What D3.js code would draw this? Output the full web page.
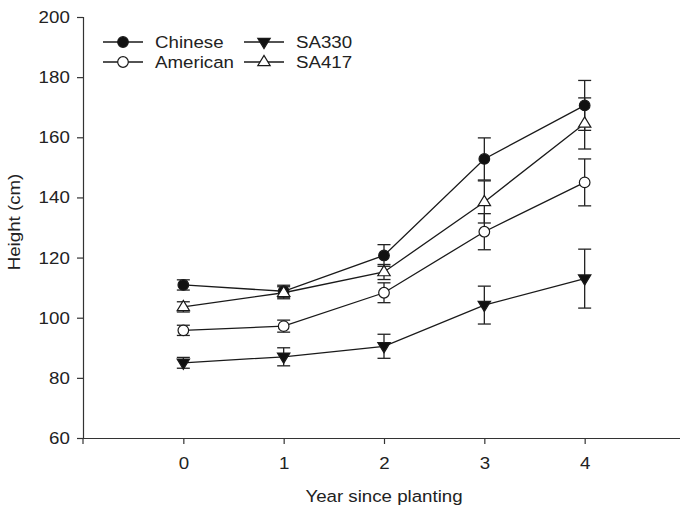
<!DOCTYPE html>
<html><head><meta charset="utf-8">
<script src="https://cdn.jsdelivr.net/npm/d3@7"></script>
<style>body{margin:0;background:#fff}svg{display:block;font-family:"Liberation Sans",Arial,sans-serif}</style>
</head><body><svg id="c" width="680" height="511"></svg>
<script>
const years = [0, 1, 2, 3, 4];
const seriesNames = ["Chinese", "American", "SA330", "SA417"];
const chinese     = [110.9, 108.8, 120.7, 152.8, 170.6];
const chineseErr  = [1.7, 2.0, 3.6, 7.0, 8.3];
const american    = [95.8, 97.2, 108.3, 128.6, 145.0];
const americanErr = [1.7, 2.0, 3.3, 6.0, 7.8];
const sa330       = [85.0, 87.0, 90.5, 104.2, 113.0];
const sa330Err    = [1.8, 3.0, 4.0, 6.3, 9.8];
const sa417       = [103.6, 108.3, 115.2, 138.5, 164.6];
const sa417Err    = [1.7, 2.0, 2.5, 7.0, 8.5];
const yTicks = [60, 80, 100, 120, 140, 160, 180, 200];

const series = [
  {name: seriesNames[0], v: chinese, e: chineseErr, shape: "circle", fill: "#111"},
  {name: seriesNames[1], v: american, e: americanErr, shape: "circle", fill: "#fff"},
  {name: seriesNames[2], v: sa330, e: sa330Err, shape: "tridown", fill: "#111"},
  {name: seriesNames[3], v: sa417, e: sa417Err, shape: "triup", fill: "#fff"}
];

const svg = d3.select("#c");
const x = d3.scaleLinear().domain([-1, 5]).range([83, 685]);
const y = d3.scaleLinear().domain([60, 200]).range([438, 17]);

const stroke = "#1a1a1a";
const SX = 1.1;

// axes
const ax = svg.append("g").attr("transform", "translate(0,438)")
  .call(d3.axisBottom(x).tickValues(years).tickSize(6).tickFormat(d3.format("d")));
const ay = svg.append("g").attr("transform", "translate(83,0)")
  .call(d3.axisLeft(y).tickValues(yTicks).tickSize(6).tickFormat(d3.format("d")));
[ax, ay].forEach(g => {
  g.select(".domain").attr("stroke", "#333").attr("stroke-width", 1.2);
  g.selectAll(".tick line").attr("stroke", "#333").attr("stroke-width", 1.2);
  g.selectAll(".tick text").attr("fill", "#222").style("font-size", "17px")
    .style("font-family", "Liberation Sans, Arial, sans-serif");
});
ax.select(".domain").attr("d", "M83,0.5H685");
ax.selectAll(".tick text").attr("y", 31).attr("dy", 0).attr("transform", `scale(${SX},1)`);
ay.selectAll(".tick text").attr("x", -12).attr("transform", `scale(${SX},1)`);
// tick at left end of x axis
svg.append("line").attr("x1", 83).attr("x2", 83).attr("y1", 438).attr("y2", 444).attr("stroke", "#333").attr("stroke-width", 1.2);

svg.append("text").attr("transform", `translate(384,502) scale(${SX},1)`).attr("text-anchor", "middle")
  .attr("fill", "#222").style("font-size", "17px").text("Year since planting");
svg.append("text").attr("transform", `translate(20,222) rotate(-90) scale(${SX},1)`).attr("text-anchor", "middle")
  .attr("fill", "#222").style("font-size", "17px").text("Height (cm)");

function drawMarker(g, shape, fill, cx, cy) {
  if (shape === "circle") {
    g.append("circle").attr("cx", cx).attr("cy", cy).attr("r", 5.3)
      .attr("fill", fill).attr("stroke", stroke).attr("stroke-width", 1.2);
  } else {
    const s = 6.2;
    const pts = shape === "triup"
      ? [[cx - s, cy + s * 0.6], [cx + s, cy + s * 0.6], [cx, cy - s * 1.05]]
      : [[cx - s, cy - s * 0.6], [cx + s, cy - s * 0.6], [cx, cy + s * 1.05]];
    g.append("polygon").attr("points", pts.map(p => p.join(",")).join(" "))
      .attr("fill", fill).attr("stroke", stroke).attr("stroke-width", 1.2);
  }
}

const line = d3.line().x((d, i) => x(years[i])).y(d => y(d));
const plot = svg.append("g");
// error bars
series.forEach(s => {
  s.v.forEach((v, i) => {
    const cx = x(years[i]);
    const g = plot.append("g").attr("stroke", "#222").attr("stroke-width", 1.3);
    g.append("line").attr("x1", cx).attr("x2", cx).attr("y1", y(v - s.e[i])).attr("y2", y(v + s.e[i]));
    [v - s.e[i], v + s.e[i]].forEach(t =>
      g.append("line").attr("x1", cx - 6.5).attr("x2", cx + 6.5).attr("y1", y(t)).attr("y2", y(t)));
  });
});
series.forEach(s => {
  plot.append("path").attr("d", line(s.v)).attr("fill", "none").attr("stroke", stroke).attr("stroke-width", 1.3);
});
series.forEach(s => {
  s.v.forEach((v, i) => drawMarker(plot, s.shape, s.fill, x(years[i]), y(v)));
});

// legend
const legPos = [[103, 42], [103, 62], [244, 42], [244, 62]];
series.forEach((s, k) => {
  const [lx, ly] = legPos[k];
  const g = svg.append("g");
  g.append("line").attr("x1", lx).attr("x2", lx + 40).attr("y1", ly).attr("y2", ly)
    .attr("stroke", stroke).attr("stroke-width", 1.3);
  drawMarker(g, s.shape, s.fill, lx + 20, ly);
  g.append("text").attr("transform", `translate(${lx + 52},${ly + 6}) scale(${SX},1)`).attr("fill", "#222")
    .style("font-size", "17px").text(s.name);
});
</script></body></html>
